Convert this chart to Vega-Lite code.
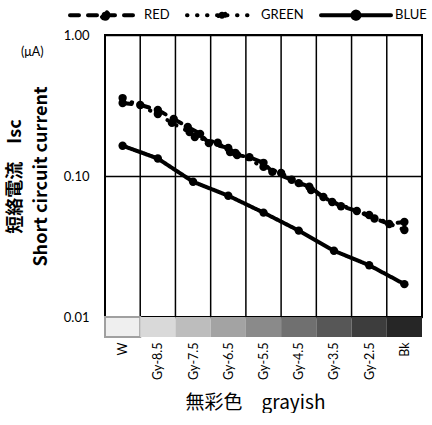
{
  "$schema": "https://vega.github.io/schema/vega-lite/v6.json",
  "padding": {"left": 5, "top": 8, "right": 0, "bottom": 0},
  "spacing": 0,
  "bounds": "flush",
  "config": {
    "font": "Lato",
    "view": {"stroke": null},
    "axis": {"labelColor": "black", "titleColor": "black"}
  },
  "datasets": {
    "series": [
      {"series": "BLUE", "v": 9.5, "value": 0.164},
      {"series": "BLUE", "v": 8.5, "value": 0.133},
      {"series": "BLUE", "v": 7.5, "value": 0.091},
      {"series": "BLUE", "v": 6.5, "value": 0.0725},
      {"series": "BLUE", "v": 5.5, "value": 0.055},
      {"series": "BLUE", "v": 4.5, "value": 0.041},
      {"series": "BLUE", "v": 3.5, "value": 0.0295},
      {"series": "BLUE", "v": 2.5, "value": 0.0233},
      {"series": "BLUE", "v": 1.5, "value": 0.0171},
      {"series": "RED", "v": 9.5, "value": 0.329},
      {"series": "RED", "v": 9.0, "value": 0.319},
      {"series": "RED", "v": 8.5, "value": 0.294},
      {"series": "RED", "v": 8.05, "value": 0.254},
      {"series": "RED", "v": 7.65, "value": 0.223},
      {"series": "RED", "v": 7.3, "value": 0.199},
      {"series": "RED", "v": 7.05, "value": 0.171},
      {"series": "RED", "v": 6.5, "value": 0.158},
      {"series": "RED", "v": 6.25, "value": 0.141},
      {"series": "RED", "v": 5.9, "value": 0.136},
      {"series": "RED", "v": 5.5, "value": 0.124},
      {"series": "RED", "v": 5.25, "value": 0.107},
      {"series": "RED", "v": 4.7, "value": 0.094},
      {"series": "RED", "v": 4.2, "value": 0.084},
      {"series": "RED", "v": 3.8, "value": 0.071},
      {"series": "RED", "v": 3.3, "value": 0.061},
      {"series": "RED", "v": 2.85, "value": 0.0565},
      {"series": "RED", "v": 2.35, "value": 0.05},
      {"series": "RED", "v": 1.93, "value": 0.0457},
      {"series": "RED", "v": 1.5, "value": 0.0472},
      {"series": "GREEN", "v": 9.5, "value": 0.357},
      {"series": "GREEN", "v": 8.5, "value": 0.275},
      {"series": "GREEN", "v": 8.1, "value": 0.238},
      {"series": "GREEN", "v": 7.6, "value": 0.205},
      {"series": "GREEN", "v": 7.45, "value": 0.189},
      {"series": "GREEN", "v": 6.8, "value": 0.172},
      {"series": "GREEN", "v": 6.45, "value": 0.148},
      {"series": "GREEN", "v": 6.3, "value": 0.146},
      {"series": "GREEN", "v": 5.5, "value": 0.116},
      {"series": "GREEN", "v": 5.0, "value": 0.105},
      {"series": "GREEN", "v": 4.5, "value": 0.089},
      {"series": "GREEN", "v": 4.15, "value": 0.0796},
      {"series": "GREEN", "v": 3.55, "value": 0.0654},
      {"series": "GREEN", "v": 2.5, "value": 0.0529},
      {"series": "GREEN", "v": 1.5, "value": 0.0414}
    ],
    "bounds": [{"b": 2}, {"b": 3}, {"b": 4}, {"b": 5}, {"b": 6}, {"b": 7}, {"b": 8}, {"b": 9}],
    "swatch": [
      {"name": "W", "lo": 10, "hi": 9},
      {"name": "Gy-8.5", "lo": 9, "hi": 8},
      {"name": "Gy-7.5", "lo": 8, "hi": 7},
      {"name": "Gy-6.5", "lo": 7, "hi": 6},
      {"name": "Gy-5.5", "lo": 6, "hi": 5},
      {"name": "Gy-4.5", "lo": 5, "hi": 4},
      {"name": "Gy-3.5", "lo": 4, "hi": 3},
      {"name": "Gy-2.5", "lo": 3, "hi": 2},
      {"name": "Bk", "lo": 2, "hi": 1}
    ]
  },
  "vconcat": [
    {
      "width": 317,
      "height": 282,
      "view": {"stroke": "black", "strokeWidth": 2},
      "title": {"text": "(μA)", "anchor": "start", "frame": "group", "dx": -84, "dy": 33, "fontSize": 12.5, "fontWeight": "normal", "font": "Lato", "color": "black"},
      "layer": [
        {
          "data": {"name": "bounds"},
          "mark": {"type": "rule", "color": "black", "strokeWidth": 1.5},
          "encoding": {
            "x": {"field": "b", "type": "quantitative", "scale": {"domain": [1, 10], "reverse": true, "nice": false, "zero": false}, "axis": null}
          }
        },
        {
          "data": {"name": "series"},
          "mark": {"type": "line", "color": "black", "strokeWidth": 4, "strokeCap": "round"},
          "encoding": {
            "x": {"field": "v", "type": "quantitative", "scale": {"domain": [1, 10], "reverse": true, "nice": false, "zero": false}, "axis": null},
            "y": {
              "field": "value", "type": "quantitative",
              "scale": {"type": "log", "domain": [0.01, 1], "nice": false},
              "axis": {
                "values": [0.01, 0.1, 1], "format": ".2f", "grid": true, "gridColor": "black", "gridWidth": 1.5, "gridOpacity": 1,
                "ticks": false, "domain": false, "labelFontSize": 13, "labelPadding": 16,
                "title": ["短絡電流　Isc", "Short circuit current"],
                "titleFont": "Noto Sans CJK JP", "titleFontSize": 18, "titleFontWeight": "bold", "titlePadding": 13, "titleLineHeight": 26
              }
            },
            "strokeDash": {
              "field": "series", "type": "nominal",
              "scale": {"domain": ["RED", "GREEN", "BLUE"], "range": [[9, 9], [0.5, 9.5], [1, 0]]},
              "legend": {
                "title": null, "orient": "none", "legendX": -7, "legendY": -27, "direction": "horizontal", "padding": 0,
                "symbolType": "M-7,0H7M0.7,0A0.7,0.7,0,1,1,-0.7,0A0.7,0.7,0,1,1,0.7,0Z",
                "symbolSize": 100, "symbolStrokeWidth": 4, "symbolStrokeColor": "black", "symbolFillColor": "black",
                "labelFontSize": 13, "labelFont": "Lato", "labelColor": "black", "columnPadding": 9, "labelOffset": 32,
                "encode": {"symbols": {"update": {
                  "fill": {"value": "black"},
                  "stroke": {"value": "black"},
                  "strokeWidth": {"value": 4},
                  "strokeDash": {"scale": "strokeDash", "field": "value"},
                  "strokeCap": {"value": "round"},
                  "opacity": {"value": 1}
                }}}
              }
            }
          }
        },
        {
          "data": {"name": "series"},
          "mark": {"type": "point", "filled": true, "color": "black", "size": 70, "opacity": 1},
          "encoding": {
            "x": {"field": "v", "type": "quantitative"},
            "y": {"field": "value", "type": "quantitative"},
            "detail": {"field": "series", "type": "nominal"}
          }
        }
      ]
    },
    {
      "width": 317,
      "height": 20,
      "data": {"name": "swatch"},
      "mark": {"type": "rect", "strokeWidth": 2},
      "encoding": {
        "x": {
          "field": "lo", "type": "quantitative",
          "scale": {"domain": [1, 10], "reverse": true, "nice": false, "zero": false},
          "axis": {
            "values": [9.5, 8.5, 7.5, 6.5, 5.5, 4.5, 3.5, 2.5, 1.5],
            "labelExpr": "datum.value == 9.5 ? 'W' : datum.value == 1.5 ? 'Bk' : 'Gy-' + format(datum.value, '.1f')",
            "labelAngle": -90, "labelAlign": "right", "labelBaseline": "middle", "labelFontSize": 12.5, "labelPadding": 5,
            "ticks": false, "domain": false, "grid": false,
            "title": "無彩色　grayish", "titleFont": "Noto Sans CJK JP", "titleFontSize": 19, "titleFontWeight": "normal", "titlePadding": 14,
            "titleX": 150, "titleAlign": "center"
          }
        },
        "x2": {"field": "hi"},
        "fill": {
          "field": "name", "type": "nominal",
          "scale": {"domain": ["W", "Gy-8.5", "Gy-7.5", "Gy-6.5", "Gy-5.5", "Gy-4.5", "Gy-3.5", "Gy-2.5", "Bk"],
                    "range": ["#efefef", "#d9d9d9", "#bdbdbd", "#a3a3a3", "#8a8a8a", "#707070", "#575757", "#3d3d3d", "#262626"]},
          "legend": null
        },
        "stroke": {"condition": {"test": "datum.name === 'W'", "value": "#a0a0a0"}, "value": null}
      }
    }
  ]
}
